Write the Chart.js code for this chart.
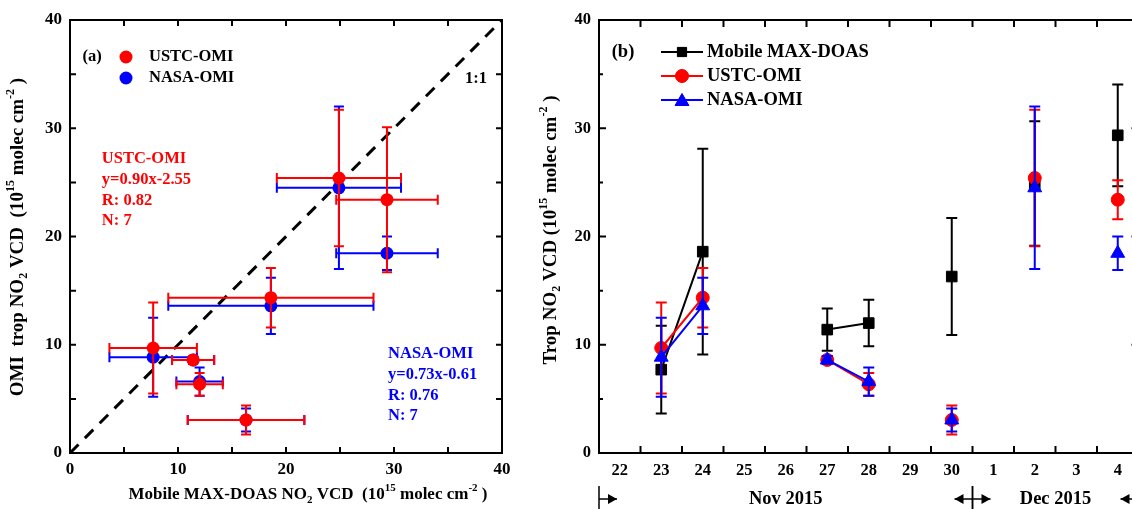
<!DOCTYPE html>
<html>
<head>
<meta charset="utf-8">
<title>NO2 VCD comparison</title>
<script src="https://cdn.jsdelivr.net/npm/chart.js@4.4.0/dist/chart.umd.min.js"></script>
<style>
  html, body { margin: 0; padding: 0; background: #fff; overflow: hidden; }
  #wrap { position: relative; width: 1132px; height: 509px; overflow: hidden; }
  #chartA { position: absolute; left: 0; top: 0; }
  #chartB { position: absolute; left: 530px; top: 0; }
</style>
</head>
<body>
<div id="wrap">
  <canvas id="chartA" width="530" height="509"></canvas>
  <canvas id="chartB" width="620" height="509"></canvas>
</div>
<script>
// measurement days and the daily-axis categories
const dayLabels = ['22', '23', '24', '25', '26', '27', '28', '29', '30', '1', '2', '3', '4'];
const obsDays   = ['23', '24', '27', '28', '30', '2', '4'];

// mobile MAX-DOAS tropospheric NO2 VCD (1e15 molec/cm2) and its spread
const doasVcd = [7.7, 18.6, 11.4, 12.0, 16.3, 24.9, 29.35];
const doasErr = [4.05, 9.5, 1.95, 2.15, 5.4, 5.75, 4.7];

// USTC-OMI retrieval
const ustcVcd      = [9.7, 14.35, 8.6, 6.35, 3.05, 25.4, 23.4];
const ustcErr      = [4.2, 2.75, 0.35, 1.05, 1.33, 6.3, 1.8];
const ustcErrVsDoas = [4.2, 2.75, 0.35, 1.05, 1.33, 6.3, 6.7];

// NASA-OMI product
const nasaVcd = [8.85, 13.6, 8.6, 6.6, 3.05, 24.5, 18.45];
const nasaErr = [3.65, 2.6, 0.35, 1.3, 1.07, 7.5, 1.55];

// regression summaries printed in panel (a)
const ustcFit = ['USTC-OMI', 'y=0.90x-2.55', 'R: 0.82', 'N: 7'];
const nasaFit = ['NASA-OMI', 'y=0.73x-0.61', 'R: 0.76', 'N: 7'];

const months = [
  { label: 'Nov 2015', from: 0, to: 9 },
  { label: 'Dec 2015', from: 9, to: 13 },
];

const RED = '#ff0000';
const BLUE = '#0000ff';
const BLACK = '#000000';
const SERIF = '"Liberation Serif", "Times New Roman", serif';

Chart.defaults.font.family = SERIF;
Chart.defaults.color = BLACK;

const font = (size) => ({ family: SERIF, size, weight: 'bold' });

// spread the 7 observations onto the daily axis (null on days without data)
const onDays = (vals) => dayLabels.map((d) => {
  const k = obsDays.indexOf(d);
  return k < 0 ? null : vals[k];
});

// text with sub/superscript pieces: parts = [[text, 'sub'|'sup'|undefined], ...]
function richText(ctx, parts, x, y, size, vertical) {
  const big = `bold ${size}px ${SERIF}`;
  const small = `bold ${Math.round(size * 0.62)}px ${SERIF}`;
  ctx.save();
  ctx.translate(x, y);
  if (vertical) ctx.rotate(-Math.PI / 2);
  ctx.fillStyle = BLACK;
  ctx.textBaseline = 'middle';
  ctx.textAlign = 'left';
  let total = 0;
  parts.forEach((p) => { ctx.font = p[1] ? small : big; total += ctx.measureText(p[0]).width; });
  let cx = -total / 2;
  parts.forEach((p) => {
    ctx.font = p[1] ? small : big;
    const dy = p[1] === 'sub' ? size * 0.32 : p[1] === 'sup' ? -size * 0.38 : 0;
    ctx.fillText(p[0], cx, dy);
    cx += ctx.measureText(p[0]).width;
  });
  ctx.restore();
}

// error bars drawn just before each dataset's own markers
const errorBars = {
  id: 'errorBars',
  beforeDatasetDraw(chart, args) {
    const ds = chart.data.datasets[args.index];
    if (!ds.errY && !ds.errX) return;
    const { ctx, scales: { x, y } } = chart;
    const cap = ds.capHalf || 5;
    ctx.save();
    ctx.strokeStyle = ds.borderColor;
    ctx.lineWidth = 2;
    args.meta.data.forEach((pt, i) => {
      const raw = ds.data[i];
      if (raw == null || pt.skip) return;
      const vy = typeof raw === 'object' ? raw.y : raw;
      const px = pt.x;
      const py = pt.y;
      ctx.beginPath();
      if (ds.errY && ds.errY[i] != null) {
        const t = y.getPixelForValue(vy + ds.errY[i]);
        const b = y.getPixelForValue(vy - ds.errY[i]);
        ctx.moveTo(px, t); ctx.lineTo(px, b);
        ctx.moveTo(px - cap, t); ctx.lineTo(px + cap, t);
        ctx.moveTo(px - cap, b); ctx.lineTo(px + cap, b);
      }
      if (ds.errX && ds.errX[i] != null) {
        const l = x.getPixelForValue(raw.x - ds.errX[i]);
        const r = x.getPixelForValue(raw.x + ds.errX[i]);
        ctx.moveTo(l, py); ctx.lineTo(r, py);
        ctx.moveTo(l, py - cap); ctx.lineTo(l, py + cap);
        ctx.moveTo(r, py - cap); ctx.lineTo(r, py + cap);
      }
      ctx.stroke();
    });
    ctx.restore();
  },
};

function strokeTicks(ctx, a, xs, ys) {
  ctx.beginPath();
  xs.forEach(([px, len]) => {
    ctx.moveTo(px, a.bottom); ctx.lineTo(px, a.bottom - len);
    ctx.moveTo(px, a.top); ctx.lineTo(px, a.top + len);
  });
  ys.forEach(([py, len]) => {
    ctx.moveTo(a.left, py); ctx.lineTo(a.left + len, py);
    ctx.moveTo(a.right, py); ctx.lineTo(a.right - len, py);
  });
  ctx.stroke();
}

// ---------------- panel (a): scatter ----------------
const scatterDecor = {
  id: 'scatterDecor',
  afterDatasetsDraw(chart) {
    const { ctx, chartArea: a, scales: { x, y } } = chart;
    ctx.save();
    ctx.strokeStyle = BLACK;
    ctx.lineWidth = 2;
    ctx.strokeRect(a.left, a.top, a.right - a.left, a.bottom - a.top);
    const xs = [], ys = [];
    for (let v = 5; v < 40; v += 5) {
      xs.push([x.getPixelForValue(v), 6]);
      ys.push([y.getPixelForValue(v), 6]);
    }
    strokeTicks(ctx, a, xs, ys);

    ctx.textBaseline = 'middle';
    ctx.font = `bold 16.5px ${SERIF}`;
    ctx.fillStyle = BLACK;
    ctx.textAlign = 'center';
    ctx.fillText('(a)', a.left + 22, a.top + 37);
    ctx.fillText('1:1', x.getPixelForValue(37.6), y.getPixelForValue(34.55));

    // legend
    [[RED, 'USTC-OMI', 37], [BLUE, 'NASA-OMI', 58]].forEach(([c, t, dy]) => {
      ctx.fillStyle = c;
      ctx.beginPath();
      ctx.arc(a.left + 56, a.top + dy, 6.5, 0, Math.PI * 2);
      ctx.fill();
      ctx.fillStyle = BLACK;
      ctx.textAlign = 'left';
      ctx.fillText(t, a.left + 79, a.top + dy);
    });

    // regression summaries
    ctx.textAlign = 'left';
    ctx.fillStyle = RED;
    ustcFit.forEach((t, i) => ctx.fillText(t, x.getPixelForValue(2.95), y.getPixelForValue(27.15) + i * 20.7));
    ctx.fillStyle = BLUE;
    nasaFit.forEach((t, i) => ctx.fillText(t, x.getPixelForValue(29.45), y.getPixelForValue(9.15) + i * 20.7));
    ctx.restore();

    richText(ctx, [['Mobile MAX-DOAS NO'], ['2', 'sub'], [' VCD  (10'], ['15', 'sup'], [' molec cm'], ['-2', 'sup'], [' )']],
      308, 495, 17, false);
    richText(ctx, [['OMI  trop NO'], ['2', 'sub'], [' VCD  (10'], ['15', 'sup'], [' molec cm'], ['-2', 'sup'], [' )']],
      18, 237, 19, true);
  },
};

new Chart(document.getElementById('chartA'), {
  type: 'scatter',
  data: {
    datasets: [
      {
        label: 'USTC-OMI',
        data: doasVcd.map((v, i) => ({ x: v, y: ustcVcd[i] })),
        errX: doasErr,
        errY: ustcErrVsDoas,
        capHalf: 5,
        borderColor: RED,
        backgroundColor: RED,
        pointRadius: 6.5,
        pointBorderWidth: 0,
      },
      {
        label: 'NASA-OMI',
        data: doasVcd.map((v, i) => ({ x: v, y: nasaVcd[i] })),
        errX: doasErr,
        errY: nasaErr,
        capHalf: 5,
        borderColor: BLUE,
        backgroundColor: BLUE,
        pointRadius: 6.5,
        pointBorderWidth: 0,
      },
      {
        label: '1:1',
        data: [{ x: 0, y: 0 }, { x: 40, y: 40 }],
        showLine: true,
        borderColor: BLACK,
        borderWidth: 3,
        borderDash: [12, 9],
        pointRadius: 0,
      },
    ],
  },
  options: {
    responsive: false,
    animation: false,
    events: [],
    layout: { padding: { left: 0, top: 20, right: 28, bottom: 0 } },
    plugins: { legend: { display: false }, tooltip: { enabled: false } },
    scales: {
      x: {
        type: 'linear', min: 0, max: 40,
        ticks: { stepSize: 10, font: font(17), color: BLACK, padding: 6, maxRotation: 0 },
        grid: { display: false, drawTicks: false },
        border: { display: false },
        afterFit: (s) => { s.height = 56; },
      },
      y: {
        type: 'linear', min: 0, max: 40,
        ticks: { stepSize: 10, font: font(17), color: BLACK, padding: 8 },
        grid: { display: false, drawTicks: false },
        border: { display: false },
        afterFit: (s) => { s.width = 70; },
      },
    },
  },
  plugins: [errorBars, scatterDecor],
});

// ---------------- panel (b): daily time series ----------------
const seriesDecor = {
  id: 'seriesDecor',
  afterDatasetsDraw(chart) {
    const { ctx, chartArea: a, scales: { x, y } } = chart;
    const step = x.getPixelForValue(1) - x.getPixelForValue(0);
    const edge = (i) => x.getPixelForValue(0) + (i - 0.5) * step;

    ctx.save();
    ctx.strokeStyle = BLACK;
    ctx.lineWidth = 2;
    ctx.strokeRect(a.left, a.top, a.right - a.left, a.bottom - a.top);
    const xs = [], ys = [];
    for (let i = 1; i < dayLabels.length; i++) xs.push([edge(i), 7]);
    for (let v = 5; v < 40; v += 5) ys.push([y.getPixelForValue(v), v % 10 === 0 ? 7 : 4]);
    strokeTicks(ctx, a, xs, ys);

    // month spans below the axis
    ctx.lineWidth = 1.5;
    ctx.fillStyle = BLACK;
    const ay = 499;
    const arrow = (from, dir) => {
      const tip = from + dir * 18;
      ctx.beginPath();
      ctx.moveTo(from, ay); ctx.lineTo(tip, ay);
      ctx.stroke();
      ctx.beginPath();
      ctx.moveTo(tip, ay);
      ctx.lineTo(tip - dir * 9, ay - 5);
      ctx.lineTo(tip - dir * 9, ay + 5);
      ctx.closePath();
      ctx.fill();
    };
    ctx.font = `bold 18.5px ${SERIF}`;
    ctx.textAlign = 'center';
    ctx.textBaseline = 'middle';
    months.forEach((m) => {
      const l = edge(m.from), r = edge(m.to);
      ctx.beginPath();
      ctx.moveTo(l, 486); ctx.lineTo(l, 515);
      ctx.moveTo(r, 486); ctx.lineTo(r, 515);
      ctx.stroke();
      arrow(l, 1);
      arrow(r, -1);
      ctx.fillText(m.label, (l + r) / 2, ay);
    });

    // legend
    ctx.font = `bold 18.5px ${SERIF}`;
    ctx.textAlign = 'center';
    ctx.fillText('(b)', a.left + 24, a.top + 32);
    const rows = [
      [BLACK, 'rect', 6.5, 'Mobile MAX-DOAS'],
      [RED, 'circle', 6.5, 'USTC-OMI'],
      [BLUE, 'triangle', 8, 'NASA-OMI'],
    ];
    rows.forEach(([c, style, r, t], i) => {
      const ry = a.top + 32 + i * 24;
      ctx.strokeStyle = c;
      ctx.fillStyle = c;
      ctx.lineWidth = 2;
      ctx.beginPath();
      ctx.moveTo(a.left + 62, ry); ctx.lineTo(a.left + 104, ry);
      ctx.stroke();
      ctx.lineWidth = 1;
      Chart.helpers.drawPoint(ctx, { pointStyle: style, radius: r, borderWidth: 1 }, a.left + 83, ry + (style === 'triangle' ? 1.5 : 0));
      ctx.fill();
      ctx.fillStyle = BLACK;
      ctx.textAlign = 'left';
      ctx.fillText(t, a.left + 108, ry);
    });
    ctx.restore();

    richText(ctx, [['Trop NO'], ['2', 'sub'], [' VCD (10'], ['15', 'sup'], [' molec cm'], ['-2', 'sup'], [' )']],
      21, 230, 19, true);
  },
};

const lineSet = (label, vals, errs, color, style, radius) => ({
  label,
  data: onDays(vals),
  errY: onDays(errs),
  capHalf: 5.5,
  borderColor: color,
  backgroundColor: color,
  borderWidth: 2,
  pointStyle: style,
  pointRadius: radius,
  pointBorderWidth: 1,
  spanGaps: false,
  tension: 0,
});

new Chart(document.getElementById('chartB'), {
  type: 'line',
  data: {
    labels: dayLabels,
    datasets: [
      lineSet('NASA-OMI', nasaVcd, nasaErr, BLUE, 'triangle', 8),
      lineSet('USTC-OMI', ustcVcd, ustcErr, RED, 'circle', 6.5),
      lineSet('Mobile MAX-DOAS', doasVcd, doasErr, BLACK, 'rect', 7.5),
    ],
  },
  options: {
    responsive: false,
    animation: false,
    events: [],
    layout: { padding: { left: 0, top: 20, right: 11.5, bottom: 0 } },
    plugins: { legend: { display: false }, tooltip: { enabled: false } },
    scales: {
      x: {
        type: 'category',
        offset: true,
        ticks: { font: font(16.5), color: BLACK, padding: 8, maxRotation: 0, autoSkip: false },
        grid: { display: false, drawTicks: false },
        border: { display: false },
        afterFit: (s) => { s.height = 56; },
      },
      y: {
        type: 'linear', min: 0, max: 40,
        ticks: { stepSize: 10, font: font(16.5), color: BLACK, padding: 8 },
        grid: { display: false, drawTicks: false },
        border: { display: false },
        afterFit: (s) => { s.width = 69; },
      },
    },
  },
  plugins: [errorBars, seriesDecor],
});
</script>
</body>
</html>
